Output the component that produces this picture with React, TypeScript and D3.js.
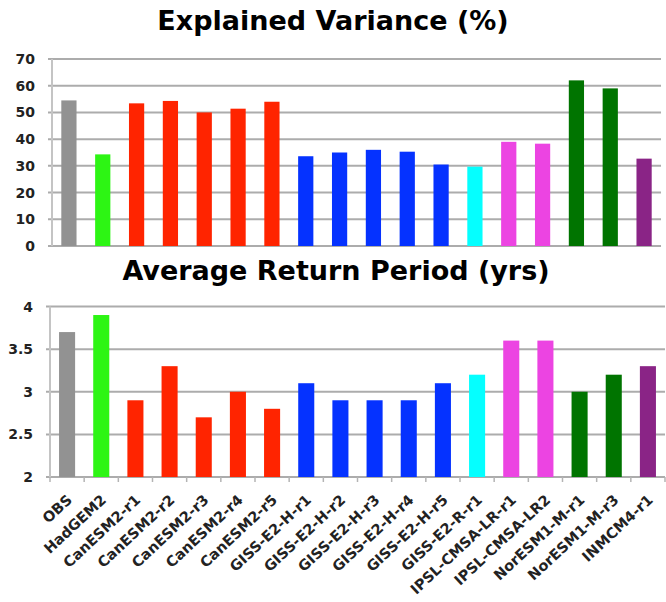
import React from "react";
import * as d3 from "d3";

const models = [
  "OBS", "HadGEM2", "CanESM2-r1", "CanESM2-r2", "CanESM2-r3", "CanESM2-r4", "CanESM2-r5",
  "GISS-E2-H-r1", "GISS-E2-H-r2", "GISS-E2-H-r3", "GISS-E2-H-r4", "GISS-E2-H-r5",
  "GISS-E2-R-r1", "IPSL-CMSA-LR-r1", "IPSL-CMSA-LR2", "NorESM1-M-r1", "NorESM1-M-r3", "INMCM4-r1",
];
const colors = [
  "#929292", "#2df514", "#ff2400", "#ff2400", "#ff2400", "#ff2400", "#ff2400",
  "#0532ff", "#0532ff", "#0532ff", "#0532ff", "#0532ff",
  "#05ffff", "#ec44e2", "#ec44e2", "#007400", "#007400", "#8a2486",
];
const explainedVariance = [54.5, 34.3, 53.4, 54.3, 50, 51.4, 54, 33.6, 35, 36, 35.3, 30.5, 29.7, 39, 38.3, 62, 59, 32.7];
const returnPeriod = [3.7, 3.9, 2.9, 3.3, 2.7, 3.0, 2.8, 3.1, 2.9, 2.9, 2.9, 3.1, 3.2, 3.6, 3.6, 3.0, 3.2, 3.3];
const varianceTicks = [0, 10, 20, 30, 40, 50, 60, 70];
const periodTicks = [2, 2.5, 3, 3.5, 4];

const FONT = "'DejaVu Sans', sans-serif";

export default function App() {
  const ref = React.useRef<SVGSVGElement | null>(null);

  React.useEffect(() => {
    if (!ref.current) return;
    const svg = d3.select(ref.current);
    svg.selectAll("*").remove();

    // one panel: grid, left axis, bars
    const panel = (
      values: number[],
      ticks: number[],
      yDomain: [number, number],
      box: { left: number; right: number; top: number; bottom: number },
      fmt: (v: number) => string,
      barPad: number,
      showLabels: boolean
    ) => {
      const x = d3.scaleBand<string>().domain(models).range([box.left, box.right]).paddingInner(barPad).paddingOuter(barPad / 2);
      const y = d3.scaleLinear().domain(yDomain).range([box.bottom, box.top]);
      const g = svg.append("g");

      g.selectAll("line.grid")
        .data(ticks)
        .join("line")
        .attr("x1", box.left - 4)
        .attr("x2", box.right)
        .attr("y1", d => y(d))
        .attr("y2", d => y(d))
        .attr("stroke", "#acacac")
        .attr("stroke-width", 2);

      g.append("line")
        .attr("x1", box.left)
        .attr("x2", box.left)
        .attr("y1", box.top)
        .attr("y2", box.bottom)
        .attr("stroke", "#c4c4c4")
        .attr("stroke-width", 2);

      g.selectAll("text.tick")
        .data(ticks)
        .join("text")
        .attr("x", box.left - 17)
        .attr("y", d => y(d))
        .attr("dy", "0.36em")
        .attr("text-anchor", "end")
        .attr("font-family", FONT)
        .attr("font-weight", "bold")
        .attr("font-size", 14)
        .attr("fill", "#222")
        .text(d => fmt(d));

      g.selectAll("rect.bar")
        .data(values)
        .join("rect")
        .attr("x", (_, i) => x(models[i])!)
        .attr("width", x.bandwidth())
        .attr("y", d => y(d))
        .attr("height", d => y(yDomain[0]) - y(d))
        .attr("fill", (_, i) => colors[i]);

      if (showLabels) {
        const step = (box.right - box.left) / models.length;
        g.selectAll("line.xtick")
          .data(d3.range(models.length + 1))
          .join("line")
          .attr("x1", i => box.left + i * step)
          .attr("x2", i => box.left + i * step)
          .attr("y1", box.bottom)
          .attr("y2", box.bottom + 5)
          .attr("stroke", "#b4b4b4")
          .attr("stroke-width", 1.5);

        g.selectAll("text.xlab")
          .data(models)
          .join("text")
          .attr("transform", d => `translate(${x(d)! + x.bandwidth() / 2 + 6},${box.bottom + 24}) rotate(-43)`)
          .attr("text-anchor", "end")
          .attr("font-family", FONT)
          .attr("font-weight", "bold")
          .attr("font-size", 14.5)
          .attr("fill", "#222")
          .text(d => d);
      }
    };

    panel(explainedVariance, varianceTicks, [0, 70], { left: 52, right: 661, top: 59, bottom: 246 }, d => String(d), 0.55, false);
    panel(returnPeriod, periodTicks, [2, 4], { left: 50, right: 665, top: 306.5, bottom: 477 }, d => String(d), 0.53, true);

    const title = (text: string, cx: number, cy: number) =>
      svg
        .append("text")
        .attr("x", cx)
        .attr("y", cy)
        .attr("text-anchor", "middle")
        .attr("font-family", FONT)
        .attr("font-weight", "bold")
        .attr("font-size", 27)
        .attr("fill", "#000")
        .text(text);

    title("Explained Variance (%)", 333, 30);
    title("Average Return Period (yrs)", 336, 280);
  }, []);

  return (
    <svg
      ref={ref}
      width={666}
      height={602}
      style={{ position: "absolute", left: 0, top: 0, background: "#fff" }}
    ></svg>
  );
}
